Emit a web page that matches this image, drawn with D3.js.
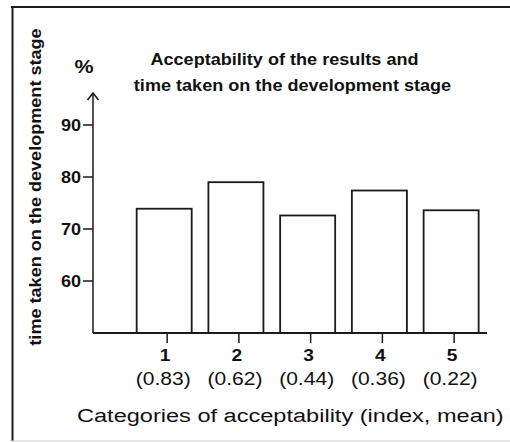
<!DOCTYPE html>
<html>
<head>
<meta charset="utf-8">
<script src="https://cdn.jsdelivr.net/npm/d3@7"></script>
<style>
  html, body { margin: 0; padding: 0; background: #fff; }
  svg { display: block; }
  text { font-family: "Liberation Sans", Arial, sans-serif; fill: #111; }
</style>
</head>
<body>
<script>
// ---- data ----
const categories = ["1", "2", "3", "4", "5"];
const indexMeans = ["(0.83)", "(0.62)", "(0.44)", "(0.36)", "(0.22)"];
const values = [73.9, 79.0, 72.6, 77.4, 73.6];
const yTicks = [60, 70, 80, 90];
const titleLines = ["Acceptability of the results and", "time taken on the development stage"];
const yAxisTitle = "time taken on the development stage";
const xAxisTitle = "Categories of acceptability (index, mean)";
const unitLabel = "%";

// ---- layout ----
const W = 510, H = 442;
const svg = d3.select("body").append("svg").attr("width", W).attr("height", H);

const x = d3.scaleBand().domain(categories).range([130.3, 489]).paddingInner(0.233).paddingOuter(0.1165);
const y = d3.scaleLinear().domain([50, 100]).range([333, 73]);
const axisX0 = 93, axisXEnd = 487, yTop = 93;
const ink = "#1a1a1a";

// frame
svg.append("line").attr("x1", 11).attr("x2", W).attr("y1", 7).attr("y2", 7).attr("stroke", ink).attr("stroke-width", 2);
svg.append("line").attr("x1", 12.5).attr("x2", 12.5).attr("y1", 6).attr("y2", 441).attr("stroke", ink).attr("stroke-width", 2);
svg.append("line").attr("x1", 12).attr("x2", W).attr("y1", 441).attr("y2", 441).attr("stroke", "#d0d0d0").attr("stroke-width", 1.2);

// bars
svg.append("g").selectAll("rect").data(values).join("rect")
  .attr("x", (d, i) => x(categories[i]) - 2)
  .attr("width", x.bandwidth())
  .attr("y", d => y(d))
  .attr("height", d => y(50) - y(d))
  .attr("fill", "#fff").attr("stroke", ink).attr("stroke-width", 1.8);

// y axis line with arrow
svg.append("line").attr("x1", axisX0).attr("x2", axisX0).attr("y1", y(50)).attr("y2", yTop)
  .attr("stroke", ink).attr("stroke-width", 1.5);
svg.append("path").attr("d", `M${axisX0 - 5.5},${yTop + 7} L${axisX0},${yTop} L${axisX0 + 5.5},${yTop + 7}`)
  .attr("fill", "none").attr("stroke", ink).attr("stroke-width", 1.6);

// x axis line
svg.append("line").attr("x1", axisX0).attr("x2", axisXEnd).attr("y1", y(50)).attr("y2", y(50))
  .attr("stroke", ink).attr("stroke-width", 1.8);

// y ticks
const yt = svg.append("g").selectAll("g").data(yTicks).join("g");
yt.append("line").attr("x1", 83).attr("x2", axisX0).attr("y1", d => y(d)).attr("y2", d => y(d))
  .attr("stroke", ink).attr("stroke-width", 1.5);
yt.append("text")
  .attr("transform", d => `translate(81,${y(d) + 5.8}) scale(1.13,1)`)
  .attr("text-anchor", "end").attr("font-size", 16).attr("font-weight", "bold")
  .text(d => d);

// x ticks
const xt = svg.append("g").selectAll("g").data(categories).join("g");
xt.append("line")
  .attr("x1", d => x(d) + x.bandwidth() / 2 + 1).attr("x2", d => x(d) + x.bandwidth() / 2 + 1)
  .attr("y1", y(50)).attr("y2", y(50) + 10)
  .attr("stroke", ink).attr("stroke-width", 1.5);
xt.append("text")
  .attr("transform", d => `translate(${x(d) + x.bandwidth() / 2 - 1},361) scale(1.13,1)`)
  .attr("text-anchor", "middle").attr("font-size", 17).attr("font-weight", "bold")
  .text(d => d);
xt.append("text")
  .attr("transform", (d, i) => `translate(${x(d) + x.bandwidth() / 2 - 3},385) scale(1.17,1)`)
  .attr("text-anchor", "middle").attr("font-size", 18)
  .text((d, i) => indexMeans[i]);

// x axis title
svg.append("text")
  .attr("transform", "translate(77,421.5) scale(1.24,1)")
  .attr("text-anchor", "start").attr("font-size", 19)
  .text(xAxisTitle);

// y axis title
svg.append("text")
  .attr("transform", "translate(41,187) rotate(-90) scale(1.13,1)")
  .attr("text-anchor", "middle").attr("font-size", 16).attr("font-weight", "bold")
  .text(yAxisTitle);

// unit label
svg.append("text")
  .attr("transform", "translate(84,73) scale(1.13,1)")
  .attr("text-anchor", "middle").attr("font-size", 19).attr("font-weight", "bold")
  .text(unitLabel);

// title
const titleX = [284.5, 292.5], titleY = [65, 91];
svg.append("g").selectAll("text").data(titleLines).join("text")
  .attr("transform", (d, i) => `translate(${titleX[i]},${titleY[i]}) scale(1.13,1)`)
  .attr("text-anchor", "middle").attr("font-size", 16).attr("font-weight", "bold")
  .text(d => d);
</script>
</body>
</html>
